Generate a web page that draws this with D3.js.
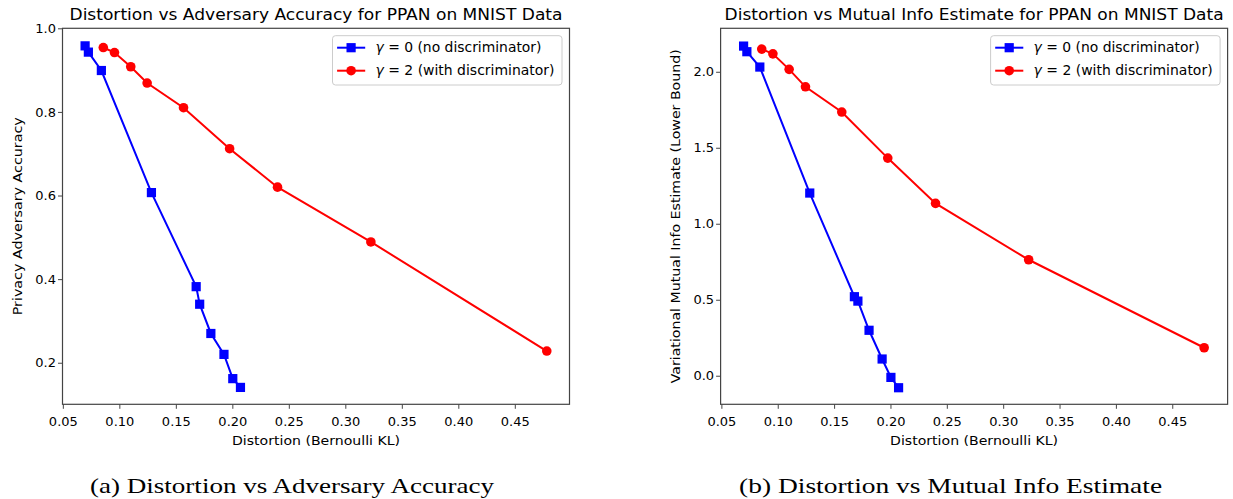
<!DOCTYPE html>
<html>
<head>
<meta charset="utf-8">
<script src="https://cdn.jsdelivr.net/npm/d3@7"></script>
<style>
  body { margin: 0; background: #fff; }
  svg { display: block; font-family: "DejaVu Sans", sans-serif; }
  .axis line { stroke: #444; }
  .axis text { fill: #000; font-size: 13px; font-family: "DejaVu Sans", sans-serif; }
  .caption { font-family: "Liberation Serif", serif; font-size: 21.5px; }
</style>
</head>
<body>
<svg id="chart" width="1233" height="499"></svg>
<script>
/*
 Data
 */
var xNoDisc = [0.0697, 0.0726, 0.0841, 0.1284, 0.1680, 0.1711, 0.1810, 0.1926, 0.2004, 0.2072];
var xDisc = [0.0858, 0.0957, 0.1101, 0.1246, 0.1568, 0.1976, 0.2400, 0.3226, 0.4783];

var accNoDisc = [0.958, 0.943, 0.899, 0.607, 0.382, 0.340, 0.270, 0.220, 0.162, 0.141];
var accDisc = [0.954, 0.942, 0.908, 0.869, 0.810, 0.712, 0.620, 0.489, 0.228];

var miNoDisc = [2.169, 2.132, 2.031, 1.202, 0.520, 0.491, 0.299, 0.110, -0.011, -0.079];
var miDisc = [2.149, 2.118, 2.016, 1.901, 1.735, 1.432, 1.134, 0.763, 0.184];

var xTicks = [0.05, 0.10, 0.15, 0.20, 0.25, 0.30, 0.35, 0.40, 0.45];
var accTicks = [0.2, 0.4, 0.6, 0.8, 1.0];
var miTicks = [0.0, 0.5, 1.0, 1.5, 2.0];

var legendLabels = ['0 (no discriminator)', '2 (with discriminator)'];

var svg = d3.select('#chart');

function zip(xs, ys) {
    return xs.map(function (x, i) {
        return {x: x, y: ys[i]};
    });
}

// stretch a text to the width it has in the picture
function fit(sel, len) {
    sel.attr('textLength', len).attr('lengthAdjust', 'spacingAndGlyphs');
}

function drawPanel(cfg) {
    var g = svg.append('g').attr('transform', 'translate(' + cfg.left + ',' + cfg.top + ')');
    var w = cfg.width, h = cfg.height;

    var x = d3.scaleLinear().domain(cfg.xDomain).range([0, w]);
    var y = d3.scaleLinear().domain(cfg.yDomain).range([h, 0]);

    g.append('g')
        .classed('axis', true)
        .attr('transform', 'translate(0,' + h + ')')
        .call(d3.axisBottom(x).tickValues(xTicks).tickFormat(d3.format('.2f')).tickSize(4.5).tickSizeOuter(0))
        .call(function (a) { a.select('.domain').remove(); })
        .selectAll('text').attr('y', 21.7).attr('dy', 0);

    g.append('g')
        .classed('axis', true)
        .call(d3.axisLeft(y).tickValues(cfg.yTicks).tickFormat(d3.format('.1f')).tickSize(4.5).tickPadding(2).tickSizeOuter(0))
        .call(function (a) { a.select('.domain').remove(); });

    // frame
    g.append('rect')
        .attr('width', w)
        .attr('height', h)
        .attr('fill', 'none')
        .attr('stroke', '#444')
        .attr('stroke-width', 1.2);

    var line = d3.line()
        .x(function (d) { return x(d.x); })
        .y(function (d) { return y(d.y); });

    var series = [
        {data: zip(xNoDisc, cfg.blue), color: '#0000ff', shape: 'square'},
        {data: zip(xDisc, cfg.red), color: '#ff0000', shape: 'circle'}
    ];

    series.forEach(function (s) {
        g.append('path')
            .datum(s.data)
            .attr('d', line)
            .attr('fill', 'none')
            .attr('stroke', s.color)
            .attr('stroke-width', 2);

        if (s.shape === 'square') {
            g.selectAll(null)
                .data(s.data)
                .enter().append('rect')
                .attr('x', function (d) { return x(d.x) - 4.6; })
                .attr('y', function (d) { return y(d.y) - 4.6; })
                .attr('width', 9.2)
                .attr('height', 9.2)
                .attr('fill', s.color);
        } else {
            g.selectAll(null)
                .data(s.data)
                .enter().append('circle')
                .attr('cx', function (d) { return x(d.x); })
                .attr('cy', function (d) { return y(d.y); })
                .attr('r', 4.8)
                .attr('fill', s.color);
        }
    });

    // title + axis labels
    g.append('text')
        .attr('x', w / 2)
        .attr('y', -8)
        .attr('text-anchor', 'middle')
        .attr('font-size', '16px')
        .text(cfg.title)
        .call(fit, cfg.titleLen);

    g.append('text')
        .attr('x', w / 2)
        .attr('y', h + 41)
        .attr('text-anchor', 'middle')
        .attr('font-size', '13px')
        .text('Distortion (Bernoulli KL)')
        .call(fit, 168);

    g.append('text')
        .attr('transform', 'translate(-41,' + (h / 2) + ') rotate(-90)')
        .attr('text-anchor', 'middle')
        .attr('font-size', '13px')
        .text(cfg.yLabel)
        .call(fit, cfg.yLabelLen);

    // legend
    var lg = g.append('g').attr('transform', 'translate(' + (w - 237) + ',7.4)');
    lg.append('rect')
        .attr('width', 229.5)
        .attr('height', 49.3)
        .attr('rx', 3)
        .attr('fill', '#fff')
        .attr('stroke', '#ccc')
        .attr('stroke-width', 1);

    var textLens = [166, 179];
    series.forEach(function (s, i) {
        var cy = 12 + i * 23;
        lg.append('line')
            .attr('x1', 4.6).attr('x2', 32.7)
            .attr('y1', cy).attr('y2', cy)
            .attr('stroke', s.color)
            .attr('stroke-width', 2);
        if (s.shape === 'square') {
            lg.append('rect').attr('x', 14).attr('y', cy - 4.6).attr('width', 9.2).attr('height', 9.2).attr('fill', s.color);
        } else {
            lg.append('circle').attr('cx', 18.6).attr('cy', cy).attr('r', 4.8).attr('fill', s.color);
        }
        var t = lg.append('text')
            .attr('x', 43)
            .attr('y', cy + 4.8)
            .attr('font-size', '13.3px');
        t.append('tspan').attr('font-style', 'italic').text('\u03b3');
        t.append('tspan').text(' = ' + legendLabels[i]);
        t.call(fit, textLens[i]);
    });
}

drawPanel({
    left: 62.5, top: 28.3, width: 507, height: 376,
    xDomain: [0.0497, 0.4984], yDomain: [0.1006, 1.0], yTicks: accTicks,
    blue: accNoDisc, red: accDisc,
    title: 'Distortion vs Adversary Accuracy for PPAN on MNIST Data', titleLen: 493,
    yLabel: 'Privacy Adversary Accuracy', yLabelLen: 198
});

drawPanel({
    left: 720.6, top: 28.3, width: 507, height: 376,
    xDomain: [0.0493, 0.4991], yDomain: [-0.188, 2.286], yTicks: miTicks,
    blue: miNoDisc, red: miDisc,
    title: 'Distortion vs Mutual Info Estimate for PPAN on MNIST Data', titleLen: 499,
    yLabel: 'Variational Mutual Info Estimate (Lower Bound)', yLabelLen: 334
});

svg.append('text').classed('caption', true)
    .attr('x', 292).attr('y', 493).attr('text-anchor', 'middle')
    .text('(a) Distortion vs Adversary Accuracy')
    .call(fit, 404);

svg.append('text').classed('caption', true)
    .attr('x', 950.6).attr('y', 493).attr('text-anchor', 'middle')
    .text('(b) Distortion vs Mutual Info Estimate')
    .call(fit, 423);
</script>
</body>
</html>
